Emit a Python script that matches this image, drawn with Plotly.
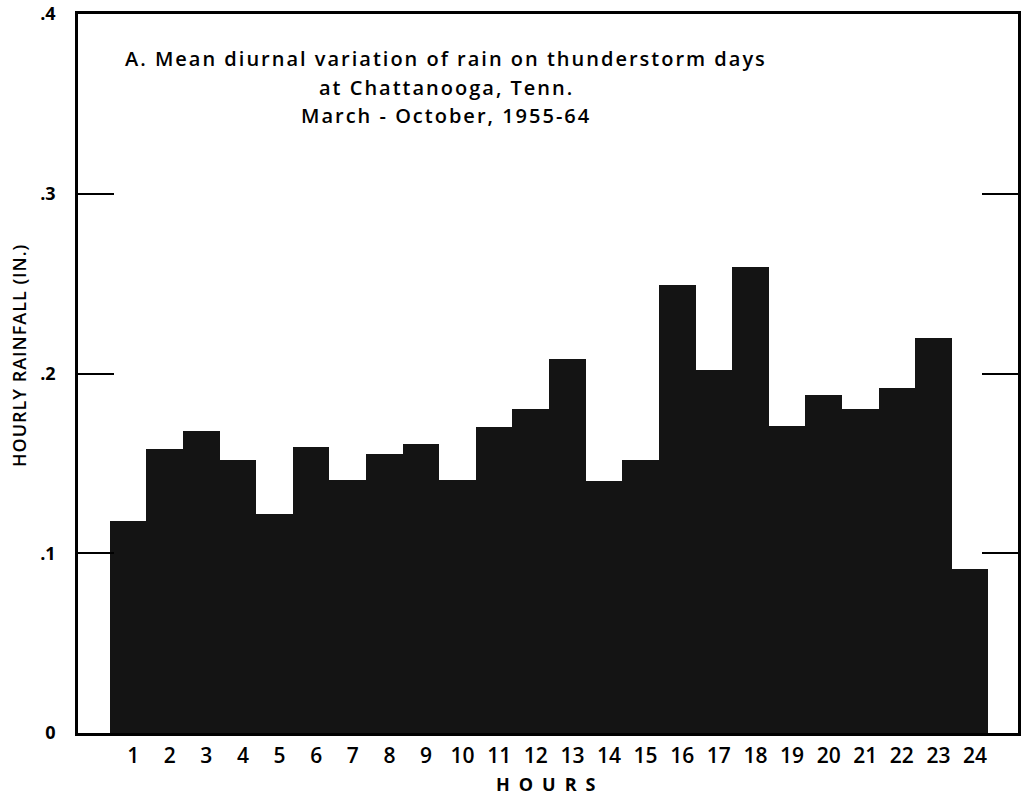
import plotly.graph_objects as go

# Mean hourly rainfall on thunderstorm days, Chattanooga, March-October 1955-64
hours = list(range(1, 25))
rainfall = [0.118, 0.158, 0.168, 0.152, 0.122, 0.159, 0.141, 0.155, 0.161, 0.141,
            0.170, 0.180, 0.208, 0.140, 0.152, 0.249, 0.202, 0.259, 0.171, 0.188,
            0.180, 0.192, 0.220, 0.091]
y_ticks = [0, 0.1, 0.2, 0.3, 0.4]
y_tick_labels = ["0", ".1", ".2", ".3", ".4"]
title_lines = ["A. Mean diurnal variation of rain on thunderstorm days",
               "at Chattanooga, Tenn.",
               "March - October, 1955-64"]

FONT = "Open Sans"
W, H = 1027, 799
ML, MR, MT, MB = 78, 9, 14, 66


def spaced(text, px):
    return f'<span style="letter-spacing:{px}px">{text}</span>'


fig = go.Figure(go.Bar(
    x=hours, y=rainfall, width=1.0,
    marker=dict(color="#141414", line=dict(width=0)),
    hoverinfo="x+y",
))

fig.update_layout(
    width=W, height=H,
    margin=dict(l=ML, r=MR, t=MT, b=MB, autoexpand=False),
    paper_bgcolor="white", plot_bgcolor="white",
    bargap=0, showlegend=False,
    font=dict(family=FONT, color="black", size=17),
)

fig.update_xaxes(
    range=[-0.37, 25.31], automargin=False,
    tickvals=hours, ticktext=[str(h) for h in hours],
    ticks="", showgrid=False, zeroline=False,
    showline=True, linecolor="black", linewidth=2.5, mirror=True,
    tickfont=dict(family=FONT, size=21, weight=600),
    ticklabelstandoff=2, ticklabelshift=5,
)

fig.update_yaxes(
    range=[0, 0.4], automargin=False,
    tickvals=y_ticks, ticktext=y_tick_labels,
    ticks="inside", ticklen=36, tickwidth=2, tickcolor="black",
    showgrid=False, zeroline=False,
    showline=True, linecolor="black", linewidth=2.5, mirror="ticks",
    tickfont=dict(family=FONT, size=18, weight=700),
    ticklabelstandoff=16, ticklabeloverflow="allow",
)


def px_to_paper(px, py):
    return (px - ML) / (W - ML - MR), 1 - (py - MT) / (H - MT - MB)


# Caption block inside the plot area
for i, line in enumerate(title_lines):
    ax, ay = px_to_paper(446, 58 + 29 * i)
    fig.add_annotation(
        x=ax, y=ay, xref="paper", yref="paper", showarrow=False,
        text=spaced(line, 2), font=dict(family=FONT, size=20, weight=600),
        xanchor="center", yanchor="middle",
    )

# Vertical axis caption
vx, vy = px_to_paper(19, 356)
fig.add_annotation(
    x=vx, y=vy, xref="paper", yref="paper", showarrow=False, textangle=-90,
    text=spaced("HOURLY RAINFALL (IN.)", 1), font=dict(family=FONT, size=18, weight=600),
    xanchor="center", yanchor="middle",
)

# Horizontal axis caption under the hour labels
hx, hy = px_to_paper(550, 784)
fig.add_annotation(
    x=hx, y=hy, xref="paper", yref="paper", showarrow=False,
    text=spaced("HOURS", 9), font=dict(family=FONT, size=18, weight=700),
    xanchor="center", yanchor="middle",
)

fig.write_html("out.html")
